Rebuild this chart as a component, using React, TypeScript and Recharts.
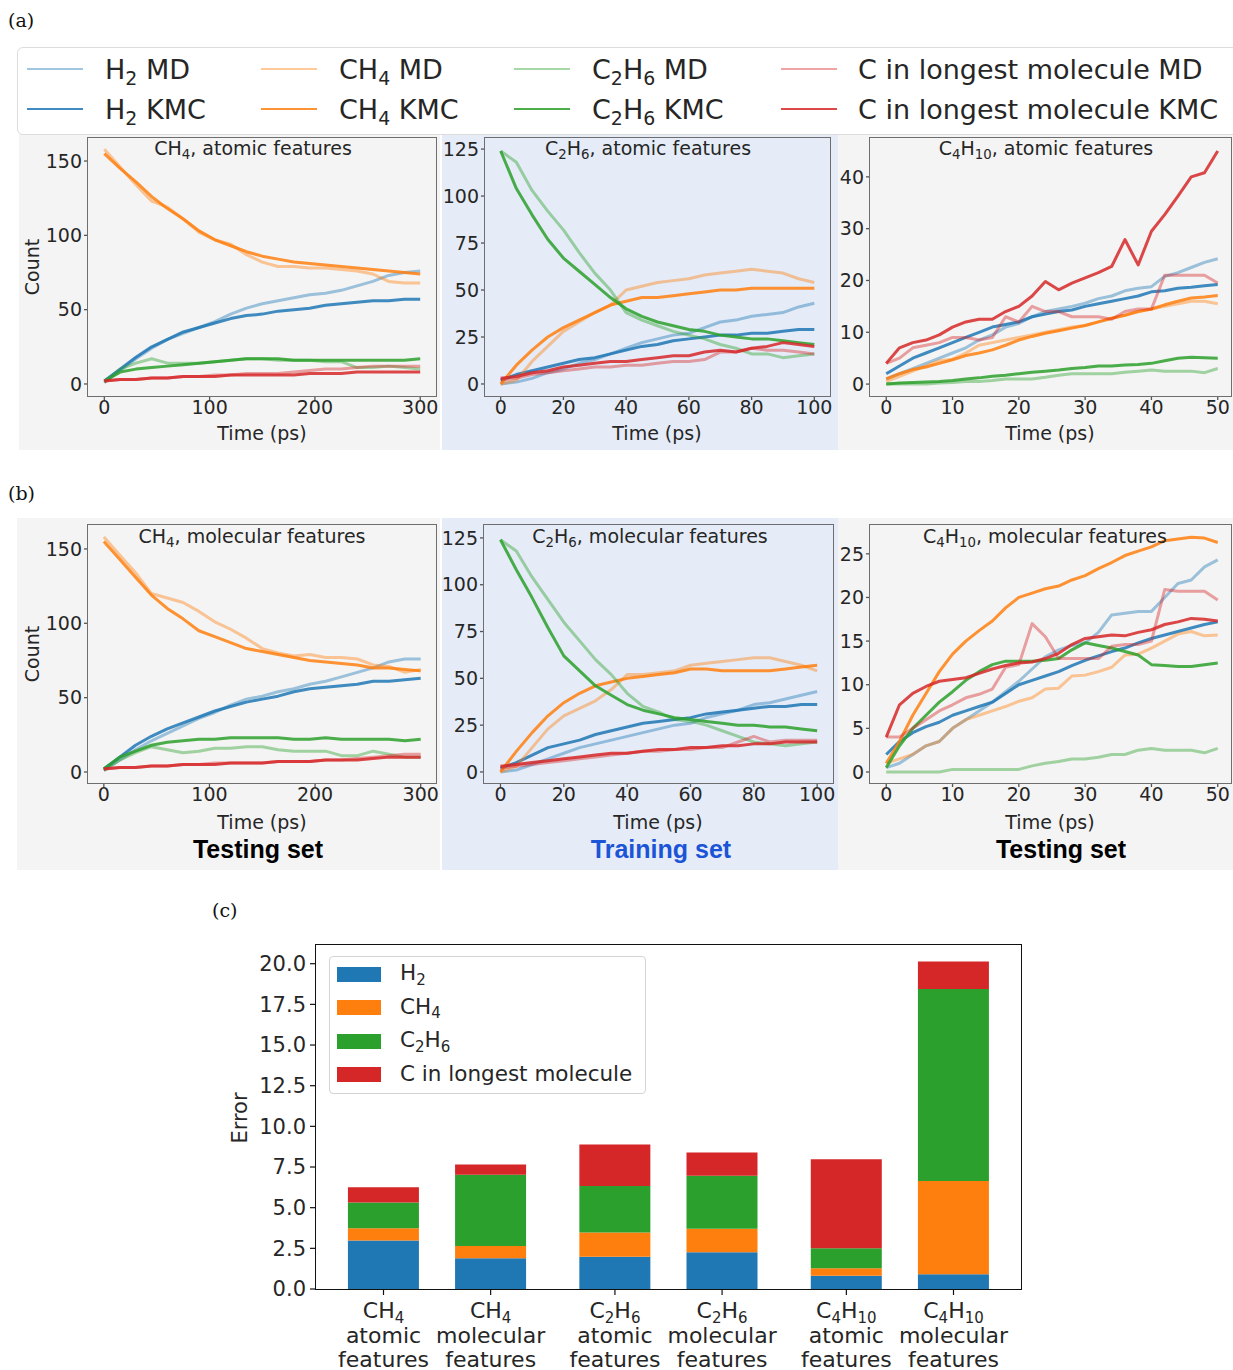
import React from 'react'
import { LineChart, Line, XAxis, YAxis, BarChart, Bar } from 'recharts'

const SANS = '"DejaVu Sans", Verdana, sans-serif'
const SERIF = '"DejaVu Serif", "Liberation Serif", serif'
const INK = '#262626'
const BLUE = '#1f77b4'
const ORANGE = '#ff7f0e'
const GREEN = '#2ca02c'
const RED = '#d62728'

// ---------- time axes (ps) ----------
const T300 = [0, 15, 30, 45, 60, 75, 90, 105, 120, 135, 150, 165, 180, 195, 210, 225, 240, 255, 270, 285, 300]
const T100 = [0, 5, 10, 15, 20, 25, 30, 35, 40, 45, 50, 55, 60, 65, 70, 75, 80, 85, 90, 95, 100]
const T50 = [0, 2, 4, 6, 8, 10, 12, 14, 16, 18, 20, 22, 24, 26, 28, 30, 32, 34, 36, 38, 40, 42, 44, 46, 48, 50]

// ---------- (a) CH4, atomic features ----------
const A1_H2_MD = [1, 9, 17, 24, 30, 34, 38, 42, 47, 51, 54, 56, 58, 60, 61, 63, 66, 69, 73, 75, 76]
const A1_H2_KMC = [2, 10, 18, 25, 30, 35, 38, 41, 44, 46, 47, 49, 50, 51, 53, 54, 55, 56, 56, 57, 57]
const A1_CH4_MD = [158, 146, 134, 123, 119, 111, 102, 97, 94, 87, 82, 79, 79, 78, 78, 77, 76, 74, 69, 68, 68]
const A1_CH4_KMC = [155, 145, 136, 126, 118, 111, 103, 97, 93, 89, 86, 84, 82, 81, 80, 79, 78, 77, 76, 75, 74]
const A1_C2H6_MD = [1, 10, 14, 17, 14, 14, 14, 15, 16, 17, 17, 16, 16, 16, 15, 15, 11, 11, 12, 11, 10]
const A1_C2H6_KMC = [2, 8, 10, 11, 12, 13, 14, 15, 16, 17, 17, 17, 16, 16, 16, 16, 16, 16, 16, 16, 17]
const A1_C_MD = [2, 3, 3, 4, 4, 5, 5, 6, 6, 7, 7, 7, 8, 9, 10, 10, 11, 12, 12, 12, 12]
const A1_C_KMC = [2, 3, 3, 4, 4, 5, 5, 5, 6, 6, 6, 6, 6, 7, 7, 7, 8, 8, 8, 8, 8]

// ---------- (a) C2H6, atomic features ----------
const A2_H2_MD = [0, 1, 3, 6, 8, 11, 13, 16, 19, 22, 24, 26, 27, 30, 33, 34, 36, 37, 38, 41, 43]
const A2_H2_KMC = [2, 5, 7, 9, 11, 13, 14, 16, 18, 20, 21, 23, 24, 25, 26, 26, 27, 27, 28, 29, 29]
const A2_CH4_MD = [0, 2, 12, 20, 28, 33, 38, 42, 50, 52, 54, 55, 56, 58, 59, 60, 61, 60, 59, 56, 54]
const A2_CH4_KMC = [0, 10, 18, 25, 30, 34, 38, 42, 44, 46, 46, 47, 48, 49, 50, 50, 51, 51, 51, 51, 51]
const A2_C2H6_MD = [124, 118, 103, 92, 82, 70, 59, 50, 38, 34, 31, 28, 26, 24, 21, 19, 16, 16, 14, 15, 16]
const A2_C2H6_KMC = [124, 104, 90, 77, 67, 60, 53, 46, 40, 36, 33, 31, 29, 28, 26, 25, 24, 24, 23, 22, 21]
const A2_C_MD = [2, 3, 5, 6, 7, 8, 9, 9, 10, 10, 11, 12, 12, 13, 17, 17, 19, 18, 18, 17, 16]
const A2_C_KMC = [3, 4, 6, 7, 9, 10, 11, 12, 12, 13, 14, 15, 15, 17, 18, 17, 19, 20, 22, 21, 20]

// ---------- (a) C4H10, atomic features ----------
const A3_H2_MD = [1, 2, 3, 4, 5, 6, 7, 8.5, 9.5, 11, 11.7, 13, 14, 14.5, 15, 15.6, 16.5, 17, 18, 18.5, 18.8, 20.8, 21.5, 22.5, 23.5, 24.2]
const A3_H2_KMC = [2, 3.5, 5, 6, 7, 8, 9, 10, 11, 11.5, 12, 13, 13.5, 14, 14.3, 15, 15.5, 16, 16.5, 17, 17.8, 18, 18.5, 18.7, 19, 19.2]
const A3_CH4_MD = [0.5, 1.5, 2.5, 3.5, 4.5, 4.8, 6, 7.5, 8, 8.5, 9, 9.5, 10, 10.5, 11, 11.3, 12, 12.7, 13.3, 14, 14.5, 15, 15.5, 16, 16, 15.5]
const A3_CH4_KMC = [1, 2, 2.8, 3.3, 4, 4.7, 5.5, 6, 6.6, 7.5, 8.5, 9.2, 9.8, 10.3, 10.8, 11.3, 12, 12.7, 13.3, 14, 14.5, 15.3, 16, 16.6, 16.8, 17.1]
const A3_C2H6_MD = [0, 0, 0, 0, 0.2, 0.3, 0.5, 0.5, 0.7, 1, 1, 1, 1.3, 1.7, 2, 2, 2, 2, 2.3, 2.5, 2.7, 2.5, 2.5, 2.5, 2.2, 3]
const A3_C2H6_KMC = [0, 0.2, 0.3, 0.4, 0.5, 0.7, 1, 1.2, 1.5, 1.7, 2, 2.3, 2.5, 2.7, 3, 3.2, 3.5, 3.5, 3.7, 3.8, 4, 4.5, 5, 5.2, 5.1, 5]
const A3_C_MD = [4, 5, 7, 7.5, 8, 9, 9, 8.5, 9, 13, 12, 15, 14, 14, 13, 13, 13, 12.5, 14, 14.5, 14.5, 21, 21, 21, 21, 19.5]
const A3_C_KMC = [4, 7, 8, 8.5, 9.5, 11, 12, 12.5, 12.5, 14, 15, 17, 19.8, 18.2, 19.5, 20.5, 21.5, 22.7, 27.9, 23, 29.5, 32.7, 36.3, 40, 40.8, 45]

// ---------- (b) CH4, molecular features ----------
const B1_H2_MD = [1, 8, 15, 21, 26, 31, 36, 40, 45, 49, 51, 54, 56, 59, 61, 64, 67, 70, 74, 76, 76]
const B1_H2_KMC = [2, 10, 18, 24, 29, 33, 37, 41, 44, 47, 49, 51, 54, 56, 57, 58, 59, 61, 61, 62, 63]
const B1_CH4_MD = [158, 146, 134, 120, 117, 114, 108, 101, 96, 90, 83, 80, 78, 79, 77, 77, 76, 72, 71, 67, 69]
const B1_CH4_KMC = [155, 143, 131, 119, 110, 103, 95, 91, 87, 83, 81, 79, 77, 75, 74, 73, 72, 70, 70, 69, 68]
const B1_C2H6_MD = [1, 8, 13, 17, 15, 13, 14, 16, 16, 17, 17, 15, 14, 14, 14, 11, 11, 14, 12, 10, 10]
const B1_C2H6_KMC = [2, 10, 14, 18, 20, 21, 22, 22, 23, 23, 23, 23, 22, 22, 23, 22, 22, 22, 22, 21, 22]
const B1_C_MD = [2, 3, 3, 4, 4, 5, 5, 6, 6, 6, 6, 7, 7, 7, 8, 8, 9, 10, 11, 12, 12]
const B1_C_KMC = [2, 3, 3, 4, 4, 5, 5, 5, 6, 6, 6, 7, 7, 7, 8, 8, 8, 9, 10, 10, 10]

// ---------- (b) C2H6, molecular features ----------
const B2_H2_MD = [0, 1, 4, 7, 10, 13, 15, 17, 19, 21, 23, 25, 26, 29, 31, 33, 36, 37, 39, 41, 43]
const B2_H2_KMC = [2, 5, 9, 13, 15, 17, 20, 22, 24, 26, 27, 28, 29, 31, 32, 33, 34, 35, 35, 36, 36]
const B2_CH4_MD = [0, 3, 13, 23, 30, 34, 38, 44, 52, 52, 53, 54, 57, 58, 59, 60, 61, 61, 59, 57, 54]
const B2_CH4_KMC = [0, 11, 21, 30, 37, 42, 46, 48, 50, 51, 52, 53, 55, 55, 54, 54, 54, 54, 55, 56, 57]
const B2_C2H6_MD = [124, 118, 104, 92, 80, 70, 60, 52, 42, 35, 32, 28, 27, 25, 22, 19, 16, 15, 14, 15, 16]
const B2_C2H6_KMC = [124, 108, 93, 77, 62, 54, 46, 41, 36, 33, 31, 29, 28, 27, 26, 25, 25, 24, 24, 23, 22]
const B2_C_MD = [2, 3, 4, 5, 6, 7, 8, 9, 10, 11, 11, 12, 12, 13, 13, 16, 19, 16, 17, 17, 17]
const B2_C_KMC = [3, 4, 5, 6, 7, 8, 9, 10, 10, 11, 12, 12, 13, 13, 14, 14, 15, 15, 16, 16, 16]

// ---------- (b) C4H10, molecular features ----------
const B3_H2_MD = [0.5, 1, 2, 3, 3.5, 5, 6, 7, 8, 9.2, 10.4, 11.8, 13.2, 14, 14.5, 14.8, 16, 18, 18.2, 18.4, 18.4, 20, 21.6, 22, 23.5, 24.3]
const B3_H2_KMC = [2, 3.5, 4.5, 5.2, 5.7, 6.5, 7, 7.5, 8, 9, 10, 10.5, 11, 11.5, 12.2, 12.8, 13.3, 13.8, 14.2, 14.8, 15.3, 15.7, 16.1, 16.5, 16.9, 17.2]
const B3_CH4_MD = [1, 1.5, 2, 3, 3.5, 5, 6, 6.5, 7, 7.5, 8.1, 8.5, 9.5, 9.6, 11, 11.1, 11.5, 12, 13.4, 13.5, 14.2, 15, 15.8, 16.1, 15.6, 15.7]
const B3_CH4_KMC = [1, 3.5, 6.5, 9, 11.5, 13.5, 15, 16.2, 17.3, 18.8, 20, 20.5, 21, 21.3, 22, 22.5, 23.3, 24, 24.8, 25.3, 25.8, 26.5, 26.7, 26.9, 26.8, 26.3]
const B3_C2H6_MD = [0, 0, 0, 0, 0, 0.3, 0.3, 0.3, 0.3, 0.3, 0.3, 0.7, 1, 1.2, 1.5, 1.5, 1.7, 2, 2, 2.5, 2.7, 2.5, 2.5, 2.5, 2.2, 2.7]
const B3_C2H6_KMC = [0.5, 3, 5, 6.5, 8, 9.2, 10.5, 11.5, 12.3, 12.7, 12.7, 12.7, 12.8, 13, 14, 14.8, 14.5, 14.2, 13.8, 13.4, 12.3, 12.2, 12.1, 12.1, 12.3, 12.5]
const B3_C_MD = [4, 4, 5, 6, 7, 7.7, 8.5, 8.9, 9.5, 12, 12.3, 17, 15.5, 13, 13, 13, 13, 14.4, 14.6, 14.6, 15, 20.9, 20.7, 20.7, 20.7, 19.7]
const B3_C_KMC = [4, 7.7, 9, 9.8, 10.4, 10.6, 10.8, 11.3, 11.8, 12.2, 12.5, 12.6, 13, 13.6, 14.6, 15.3, 15.5, 15.7, 15.6, 16, 16.3, 16.9, 17.2, 17.6, 17.5, 17.3]

// ---------- (c) errors ----------
const BAR_POS = [0, 1, 2.16, 3.16, 4.32, 5.32]
const BAR_MOL = ['CH4', 'CH4', 'C2H6', 'C2H6', 'C4H10', 'C4H10']
const BAR_FEAT = ['atomic', 'molecular', 'atomic', 'molecular', 'atomic', 'molecular']
const ERR_H2 = [2.98, 1.89, 1.99, 2.26, 0.82, 0.9]
const ERR_CH4 = [0.76, 0.76, 1.48, 1.44, 0.45, 5.74]
const ERR_C2H6 = [1.58, 4.38, 2.86, 3.27, 1.24, 11.8]
const ERR_C = [0.93, 0.62, 2.55, 1.42, 5.47, 1.7]
const ERR_TICKS = [0, 2.5, 5, 7.5, 10, 12.5, 15, 17.5, 20]

const LINE_STYLE = [
  { color: BLUE, op: 0.42 },
  { color: BLUE, op: 0.85 },
  { color: ORANGE, op: 0.42 },
  { color: ORANGE, op: 0.85 },
  { color: GREEN, op: 0.42 },
  { color: GREEN, op: 0.85 },
  { color: RED, op: 0.42 },
  { color: RED, op: 0.85 },
]

const Sub = ({ children }: { children: React.ReactNode }) => (
  <span style={{ fontSize: '0.7em', position: 'relative', top: '0.3em', lineHeight: 0 }}>{children}</span>
)

function Formula({ f }: { f: string }) {
  // CH4 -> CH<sub>4</sub>
  const parts = f.split(/(\d+)/).filter(Boolean)
  return <>{parts.map((p, i) => (/\d/.test(p) ? <Sub key={i}>{p}</Sub> : <span key={i}>{p}</span>))}</>
}

function Txt(props: {
  x: number; y: number; size: number; children: React.ReactNode
  align?: 'left' | 'center'; weight?: number; color?: string; family?: string; rotate?: boolean
}) {
  const { x, y, size, children, align = 'center', weight = 400, color = INK, family = SANS, rotate } = props
  const tx = align === 'center' ? '-50%' : '0'
  return (
    <div style={{
      position: 'absolute', left: x, top: y, fontSize: size, fontFamily: family, fontWeight: weight,
      color, whiteSpace: 'nowrap', lineHeight: 1,
      transform: `translate(${tx}, -50%)${rotate ? ' rotate(-90deg)' : ''}`,
      transformOrigin: rotate ? 'center' : undefined,
    }}>{children}</div>
  )
}

type PanelProps = {
  box: [number, number, number, number]
  time: number[]
  lines: number[][]
  xDomain: [number, number]
  xTicks: number[]
  yDomain: [number, number]
  yTicks: number[]
}

function Panel({ box, time, lines, xDomain, xTicks, yDomain, yTicks }: PanelProps) {
  const [x0, y0, x1, y1] = box
  const YW = 70, PAD = 6, XH = 40
  const rows = time.map((t, i) => {
    const r: Record<string, number> = { t }
    lines.forEach((arr, k) => { r['s' + k] = arr[i] })
    return r
  })
  const tick = { fill: INK, fontSize: 19, fontFamily: SANS }
  return (
    <>
      <div style={{ position: 'absolute', left: x0 - YW, top: y0 - PAD }}>
        <LineChart width={x1 - x0 + YW + PAD} height={y1 - y0 + PAD + XH} data={rows}
          margin={{ top: PAD, right: PAD, bottom: 0, left: 0 }}>
          <XAxis type="number" dataKey="t" domain={xDomain} ticks={xTicks} allowDataOverflow interval={0}
            height={XH} axisLine={false} tickLine={{ stroke: '#555', strokeWidth: 1.3 }} tickSize={4} tickMargin={1} tick={tick} />
          <YAxis type="number" domain={yDomain} ticks={yTicks} allowDataOverflow interval={0}
            width={YW} axisLine={false} tickLine={{ stroke: '#555', strokeWidth: 1.3 }} tickSize={4} tickMargin={2} tick={tick} />
          {lines.map((_, k) => (
            <Line key={k} dataKey={'s' + k} type="linear" dot={false} stroke={LINE_STYLE[k].color}
              strokeOpacity={LINE_STYLE[k].op} strokeWidth={3} strokeLinejoin="round" isAnimationActive={false} />
          ))}
        </LineChart>
      </div>
      <div style={{
        position: 'absolute', left: x0 - 0.75, top: y0 - 0.75, width: x1 - x0 + 1.5, height: y1 - y0 + 1.5,
        border: '1.5px solid #6e6e6e', boxSizing: 'border-box',
      }} />
    </>
  )
}

const BarTick = (props: any) => {
  const { x, y, index } = props
  const mol = BAR_MOL[index] ?? ''
  const parts = mol.split(/(\d+)/).filter(Boolean)
  let shifted = false
  return (
    <g transform={`translate(${x},${y})`}>
      <text textAnchor="middle" fontFamily={SANS} fontSize={22} fill={INK}>
        <tspan x={0} y={21}>
          {parts.map((p: string, i: number) => {
            const isNum = /\d/.test(p)
            const dy = isNum ? 5 : shifted ? -5 : 0
            shifted = isNum
            return <tspan key={i} dy={dy} fontSize={isNum ? 15 : 22}>{p}</tspan>
          })}
        </tspan>
        <tspan x={0} y={46}>{BAR_FEAT[index]}</tspan>
        <tspan x={0} y={70}>features</tspan>
      </text>
    </g>
  )
}

function ErrorChart() {
  const x0 = 316, y0 = 945, x1 = 1021, y1 = 1289
  const YW = 90, PAD = 8, XH = 90
  const rows = BAR_POS.map((p, i) => ({ p, h2: ERR_H2[i], ch4: ERR_CH4[i], c2h6: ERR_C2H6[i], c: ERR_C[i] }))
  const legend = [
    { label: <Formula f="H2" />, color: BLUE },
    { label: <Formula f="CH4" />, color: ORANGE },
    { label: <Formula f="C2H6" />, color: GREEN },
    { label: 'C in longest molecule', color: RED },
  ]
  return (
    <>
      <div style={{ position: 'absolute', left: x0 - YW, top: y0 - PAD }}>
        <BarChart width={x1 - x0 + YW + PAD} height={y1 - y0 + PAD + XH} data={rows}
          margin={{ top: PAD, right: PAD, bottom: 0, left: 0 }}>
          <XAxis type="number" dataKey="p" domain={[-0.63, 5.95]} ticks={BAR_POS} allowDataOverflow interval={0}
            height={XH} axisLine={false} tickLine={{ stroke: '#111', strokeWidth: 1.2 }} tickSize={6} tickMargin={2}
            tick={<BarTick />} />
          <YAxis type="number" domain={[0, 21.15]} ticks={ERR_TICKS} allowDataOverflow interval={0}
            width={YW} axisLine={false} tickLine={{ stroke: '#111', strokeWidth: 1.2 }} tickSize={6} tickMargin={4}
            tickFormatter={(v: number) => v.toFixed(1)} tick={{ fill: INK, fontSize: 21, fontFamily: SANS }} />
          <Bar dataKey="h2" stackId="e" fill={BLUE} barSize={71} isAnimationActive={false} />
          <Bar dataKey="ch4" stackId="e" fill={ORANGE} barSize={71} isAnimationActive={false} />
          <Bar dataKey="c2h6" stackId="e" fill={GREEN} barSize={71} isAnimationActive={false} />
          <Bar dataKey="c" stackId="e" fill={RED} barSize={71} isAnimationActive={false} />
        </BarChart>
      </div>
      <div style={{
        position: 'absolute', left: x0 - 0.6, top: y0 - 0.6, width: x1 - x0 + 1.2, height: y1 - y0 + 1.2,
        border: '1.2px solid #111', boxSizing: 'border-box',
      }} />
      <div style={{
        position: 'absolute', left: 329, top: 956, width: 317, height: 138, boxSizing: 'border-box',
        border: '1px solid #d4d4d4', borderRadius: 4, background: 'rgba(255,255,255,0.85)',
      }} />
      {legend.map((l, i) => (
        <React.Fragment key={i}>
          <div style={{ position: 'absolute', left: 337, top: 974 + i * 33.5 - 7.5, width: 44, height: 15, background: l.color }} />
          <Txt x={400} y={973 + i * 33.5} size={21.5} align="left">{l.label}</Txt>
        </React.Fragment>
      ))}
      <Txt x={240} y={1118} size={21} rotate>Error</Txt>
    </>
  )
}

const TOP_LEGEND = [
  { f: 'H2', suffix: ' MD', k: 0, col: 0, row: 0 },
  { f: 'H2', suffix: ' KMC', k: 1, col: 0, row: 1 },
  { f: 'CH4', suffix: ' MD', k: 2, col: 1, row: 0 },
  { f: 'CH4', suffix: ' KMC', k: 3, col: 1, row: 1 },
  { f: 'C2H6', suffix: ' MD', k: 4, col: 2, row: 0 },
  { f: 'C2H6', suffix: ' KMC', k: 5, col: 2, row: 1 },
  { f: '', suffix: 'C in longest molecule MD', k: 6, col: 3, row: 0 },
  { f: '', suffix: 'C in longest molecule KMC', k: 7, col: 3, row: 1 },
]
const LEG_LINE_X = [27, 261, 514, 781]
const LEG_TEXT_X = [105, 339, 592, 858]

export default function App() {
  const lines = (p: number[][]) => p
  return (
    <div style={{ position: 'absolute', left: 0, top: 0, width: 1233, height: 1370, overflow: 'hidden', background: '#fff', fontFamily: SANS }}>
      {/* panel backgrounds */}
      <div style={{ position: 'absolute', left: 19, top: 128, width: 421, height: 322, background: '#f4f4f4' }} />
      <div style={{ position: 'absolute', left: 442, top: 128, width: 396, height: 322, background: '#e5ecf7' }} />
      <div style={{ position: 'absolute', left: 838, top: 128, width: 395, height: 322, background: '#f4f4f4' }} />
      <div style={{ position: 'absolute', left: 17, top: 518, width: 423, height: 352, background: '#f4f4f4' }} />
      <div style={{ position: 'absolute', left: 442, top: 518, width: 396, height: 352, background: '#e5ecf7' }} />
      <div style={{ position: 'absolute', left: 838, top: 518, width: 395, height: 352, background: '#f4f4f4' }} />

      <Panel box={[88, 138, 436, 396]} time={T300} xDomain={[-15.5, 315]} xTicks={[0, 100, 200, 300]}
        yDomain={[-8.1, 165.5]} yTicks={[0, 50, 100, 150]}
        lines={lines([A1_H2_MD, A1_H2_KMC, A1_CH4_MD, A1_CH4_KMC, A1_C2H6_MD, A1_C2H6_KMC, A1_C_MD, A1_C_KMC])} />
      <Panel box={[485, 138, 830, 396]} time={T100} xDomain={[-5, 105]} xTicks={[0, 20, 40, 60, 80, 100]}
        yDomain={[-6.4, 130.9]} yTicks={[0, 25, 50, 75, 100, 125]}
        lines={lines([A2_H2_MD, A2_H2_KMC, A2_CH4_MD, A2_CH4_KMC, A2_C2H6_MD, A2_C2H6_KMC, A2_C_MD, A2_C_KMC])} />
      <Panel box={[870, 138, 1231, 396]} time={T50} xDomain={[-2.45, 52]} xTicks={[0, 10, 20, 30, 40, 50]}
        yDomain={[-2.3, 47.5]} yTicks={[0, 10, 20, 30, 40]}
        lines={lines([A3_H2_MD, A3_H2_KMC, A3_CH4_MD, A3_CH4_KMC, A3_C2H6_MD, A3_C2H6_KMC, A3_C_MD, A3_C_KMC])} />

      <Panel box={[88, 525, 436, 783]} time={T300} xDomain={[-15, 314.5]} xTicks={[0, 100, 200, 300]}
        yDomain={[-7.4, 166.1]} yTicks={[0, 50, 100, 150]}
        lines={lines([B1_H2_MD, B1_H2_KMC, B1_CH4_MD, B1_CH4_KMC, B1_C2H6_MD, B1_C2H6_KMC, B1_C_MD, B1_C_KMC])} />
      <Panel box={[484, 525, 833, 783]} time={T100} xDomain={[-5.2, 105]} xTicks={[0, 20, 40, 60, 80, 100]}
        yDomain={[-5.9, 131.9]} yTicks={[0, 25, 50, 75, 100, 125]}
        lines={lines([B2_H2_MD, B2_H2_KMC, B2_CH4_MD, B2_CH4_KMC, B2_C2H6_MD, B2_C2H6_KMC, B2_C_MD, B2_C_KMC])} />
      <Panel box={[870, 525, 1231, 783]} time={T50} xDomain={[-2.45, 52]} xTicks={[0, 10, 20, 30, 40, 50]}
        yDomain={[-1.26, 28.3]} yTicks={[0, 5, 10, 15, 20, 25]}
        lines={lines([B3_H2_MD, B3_H2_KMC, B3_CH4_MD, B3_CH4_KMC, B3_C2H6_MD, B3_C2H6_KMC, B3_C_MD, B3_C_KMC])} />

      {/* panel titles */}
      <Txt x={253} y={148} size={19}><Formula f="CH4" />, atomic features</Txt>
      <Txt x={648} y={148} size={19}><Formula f="C2H6" />, atomic features</Txt>
      <Txt x={1046} y={148} size={19}><Formula f="C4H10" />, atomic features</Txt>
      <Txt x={252} y={536} size={19}><Formula f="CH4" />, molecular features</Txt>
      <Txt x={650} y={536} size={19}><Formula f="C2H6" />, molecular features</Txt>
      <Txt x={1045} y={536} size={19}><Formula f="C4H10" />, molecular features</Txt>

      {/* axis labels */}
      <Txt x={32} y={267} size={19} rotate>Count</Txt>
      <Txt x={32} y={654} size={19} rotate>Count</Txt>
      {[262, 657, 1050].map(x => <Txt key={'a' + x} x={x} y={433} size={19}>Time (ps)</Txt>)}
      {[262, 658, 1050].map(x => <Txt key={'b' + x} x={x} y={822} size={19}>Time (ps)</Txt>)}
      <Txt x={258} y={849} size={25} weight={700} color="#000" family='"Liberation Sans", Arial, sans-serif'>Testing set</Txt>
      <Txt x={661} y={849} size={25} weight={700} color="#1b54d6" family='"Liberation Sans", Arial, sans-serif'>Training set</Txt>
      <Txt x={1061} y={849} size={25} weight={700} color="#000" family='"Liberation Sans", Arial, sans-serif'>Testing set</Txt>

      {/* figure legend */}
      <div style={{
        position: 'absolute', left: 17, top: 47, width: 1230, height: 88, boxSizing: 'border-box',
        border: '1px solid #dcdcdc', borderRadius: 6, background: '#fff',
      }} />
      {TOP_LEGEND.map(e => {
        const y = e.row === 0 ? 69 : 109
        return (
          <React.Fragment key={e.k}>
            <div style={{
              position: 'absolute', left: LEG_LINE_X[e.col], top: y - 1.3, width: 56, height: 2.6,
              background: LINE_STYLE[e.k].color, opacity: LINE_STYLE[e.k].op,
            }} />
            <Txt x={LEG_TEXT_X[e.col]} y={y} size={27} align="left">
              {e.f ? <Formula f={e.f} /> : null}{e.suffix}
            </Txt>
          </React.Fragment>
        )
      })}

      {/* panel letters */}
      <Txt x={8} y={20} size={19} align="left" family={SERIF} color="#111">(a)</Txt>
      <Txt x={8} y={493} size={19} align="left" family={SERIF} color="#111">(b)</Txt>
      <Txt x={212} y={910} size={19} align="left" family={SERIF} color="#111">(c)</Txt>

      <ErrorChart />
    </div>
  )
}
